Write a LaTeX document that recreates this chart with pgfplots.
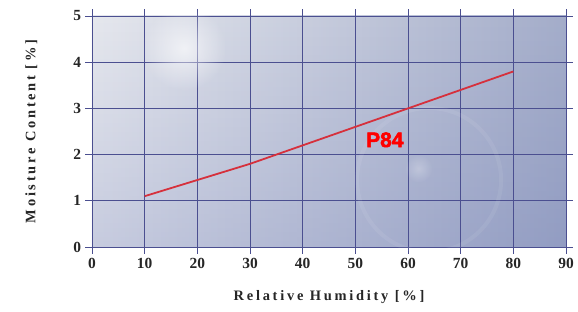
\documentclass[border=0pt]{standalone}
\usepackage{pgfplots}
\pgfplotsset{compat=1.18}
\usepackage{fontspec}
\setmainfont{Liberation Serif}
\newfontfamily\lblfont[LetterSpace=19]{Liberation Serif}
\newfontfamily\pfont[FakeBold=2.5]{Liberation Sans}
\usetikzlibrary{fadings}
\tikzfading[name=glow, inner color=transparent!0, outer color=transparent!100]
\tikzfading[name=vfade, top color=transparent!100, bottom color=transparent!80]
\definecolor{gridc}{HTML}{4B4F90}
\definecolor{bgA}{HTML}{E6E8EE}
\definecolor{bgB}{HTML}{A4ADCA}
\definecolor{ovc}{HTML}{4A5AA4}
\definecolor{redl}{HTML}{D6303C}
\begin{document}
\begin{tikzpicture}[x=1bp,y=1bp]
\useasboundingbox (-92bp,-65bp) rectangle (486bp,247bp);
\begin{axis}[
  at={(0,0)}, anchor=south west,
  scale only axis, width=474bp, height=231bp,
  xmin=0, xmax=90, ymin=0, ymax=5,
  xtick={0,10,...,90}, ytick={0,1,...,5},
  grid=major,
  grid style={gridc, line width=0.95pt},
  axis line style={draw=none},
  tick style={gridc, line width=0.95pt},
  tick align=outside,
  major tick length=6.5bp,
  axis background/.style={left color=bgA, right color=bgB, postaction={fill=ovc, path fading=vfade}},
  /pgf/number format/assume math mode=true,
  tick label style={font=\fontsize{15.5}{15.5}\selectfont\bfseries, text=black!85},
  xticklabel style={yshift=-1bp},
  yticklabel style={xshift=-1bp},
  xlabel={\lblfont\bfseries Relative Humidity [\%]},
  ylabel={\lblfont\bfseries Moisture Content [\%]},
  every axis x label/.style={at={(axis description cs:0.5,0)}, anchor=center, yshift=-50bp},
  every axis y label/.style={at={(axis description cs:-0.128,0.5)}, anchor=center, rotate=90},
  xlabel style={font=\fontsize{14.5}{14.5}\selectfont, text=black!85},
  ylabel style={font=\fontsize{14.5}{14.5}\selectfont, text=black!85},
  clip=false,
]
\fill[white, opacity=0.65, path fading=glow] (axis cs:17.5,4.3) circle (42bp);
\draw[white, opacity=0.07, line width=4bp] (axis cs:64,1.45) circle (72bp);
\fill[white, opacity=0.25, path fading=glow] (axis cs:62,1.7) circle (14bp);
\addplot[redl, line width=1.8pt] coordinates {
(10,1.10) (20,1.45) (30,1.80) (40,2.20) (50,2.60) (60,3.00) (70,3.40) (80,3.80)
};
\node[text=red, font=\pfont\bfseries\fontsize{21}{21}\selectfont] at (axis cs:55.6,2.32) {P84};
\end{axis}
\end{tikzpicture}
\end{document}
